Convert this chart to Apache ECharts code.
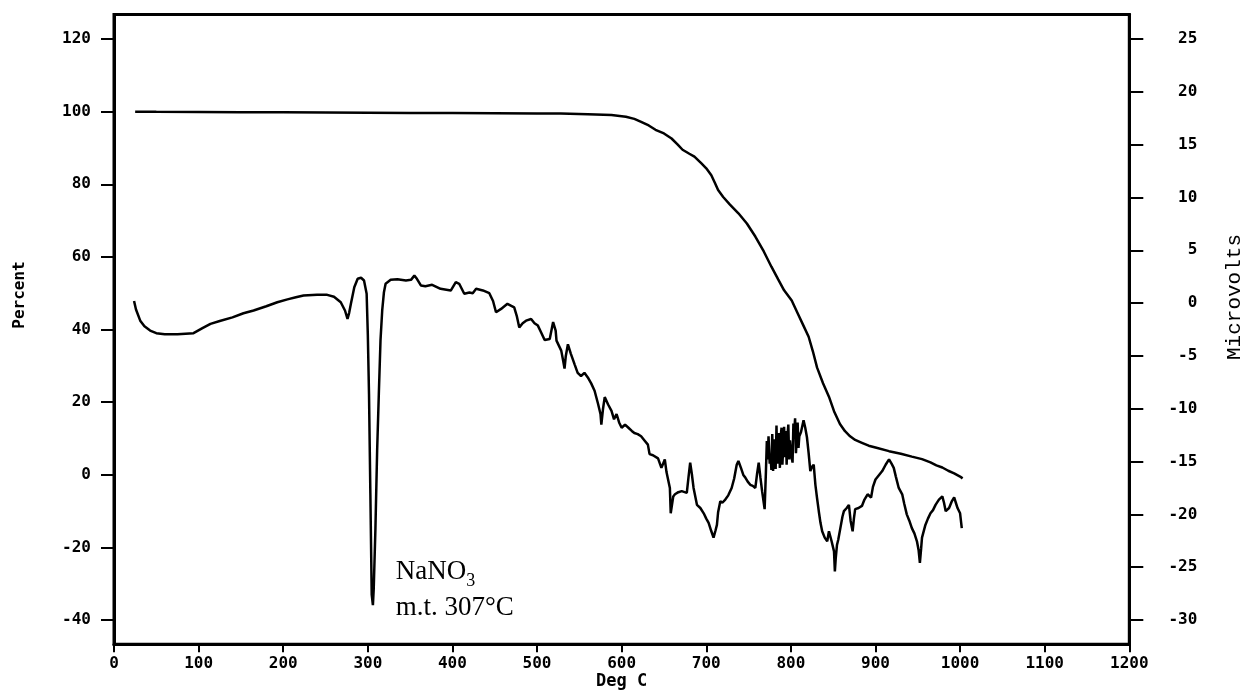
<!DOCTYPE html>
<html>
<head>
<meta charset="utf-8">
<script src="https://cdn.jsdelivr.net/npm/echarts@6/dist/echarts.min.js"></script>
<style>
  html, body { margin: 0; padding: 0; background: #fff; }
  #chart { width: 1245px; height: 690px; }
</style>
</head>
<body>
<div id="chart"></div>
<script>
// Thermogravimetric (weight %) trace: temperature in deg C, weight in percent
const tgaTemp = [25, 50, 100, 150, 200, 250, 300, 350, 400, 450, 500, 528, 560, 588, 605, 615, 623, 632, 640, 650,
  659, 666, 672, 680, 686, 694, 700, 706, 710, 714, 720, 728, 738, 748, 758, 768, 777, 785, 792, 801,
  808, 815, 821, 826, 831, 838, 845, 851, 858, 864, 870, 876, 884, 892, 900, 916, 930, 943, 955, 965,
  972, 979, 986, 993, 1000, 1003];
const tgaPercent = [100, 99.95, 99.9, 99.85, 99.8, 99.75, 99.7, 99.65, 99.6, 99.55, 99.5, 99.5, 99.3, 99.1, 98.6, 98, 97.2, 96.2, 95, 94,
  92.6, 91, 89.5, 88.4, 87.6, 85.8, 84.4, 82.5, 80.5, 78.4, 76.5, 74.4, 72, 69.2, 65.6, 61.5, 57.3, 53.8, 50.8, 48,
  44.5, 41, 38, 34, 29.5, 25.2, 21.5, 17.5, 14, 12, 10.6, 9.6, 8.8, 8.0, 7.5, 6.5, 5.8, 5.0, 4.3, 3.4,
  2.6, 2.0, 1.1, 0.4, -0.5, -1.0];

// Differential thermal trace: temperature in deg C, signal in microvolts
const dtaTemp = [23.7, 26, 31, 36, 42.7, 50, 60, 75, 94, 104, 114, 125, 140, 153, 165, 180, 193, 205, 215, 224,
  240, 252, 260, 268, 273, 276, 278, 280, 284, 288, 292, 295.5, 298.6, 300, 301.4, 303, 304.6, 306, 307, 309,
  311, 313, 315, 317, 319, 321, 327, 335, 345, 351, 355, 358, 362.7, 368, 376, 386, 398, 404, 408, 414,
  420, 424, 428, 436, 443.6, 448, 451.5, 457.5, 465, 473, 476, 479, 483, 487, 493, 497, 501, 505, 509, 515,
  519, 522, 523, 528.6, 531, 532.5, 534, 536.5, 540, 544.4, 548, 552, 556, 560, 564, 568, 572, 575, 576, 578,
  580, 584, 588, 591, 594, 597, 600, 604, 608, 612, 615, 619, 623, 627, 631, 633, 637, 643, 647, 651,
  653, 657, 658, 661, 663, 667, 671, 677, 679, 681, 683, 685, 689, 693, 697, 700, 702.8, 706, 708.6, 711,
  712.6, 714, 716.6, 719, 722.5, 726, 730, 733, 736, 738, 741, 744, 746, 749, 752, 755, 758, 760, 762, 764,
  766, 769, 770.5, 771.6, 772.6, 773.6, 775, 776, 777, 778, 779, 780, 781, 782, 783, 784, 785, 786, 787, 788,
  789, 790, 791, 792, 793, 794, 795, 796, 797, 798, 799, 800.5, 802, 803, 804, 805, 806, 807, 808, 809,
  810, 812, 815, 817, 819, 821, 823, 825, 827, 829, 831, 833, 835, 837, 840, 843, 845,
  848, 851, 852, 853, 854.5, 856, 858.5, 861, 862.7, 866, 868.6, 870.6, 873, 874.5, 876, 880, 884, 887, 890.7, 894.8,
  897, 900, 904, 908, 912, 916, 919, 921.6, 924, 927.5, 931.6, 934, 937, 940, 943, 946, 949, 951, 952.5, 954,
  955, 959, 962, 965, 968, 971, 975, 979, 981, 983, 987, 990, 993, 995, 997, 1000, 1002];
const dtaMicrovolts = [0.2, -0.6, -1.66, -2.2, -2.6, -2.85, -2.95, -2.95, -2.85, -2.4, -1.97, -1.7, -1.35, -0.96, -0.7, -0.3, 0.08, 0.35, 0.55, 0.72,
  0.8, 0.78, 0.6, 0.08, -0.7, -1.5, -0.9, -0.07, 1.5, 2.3, 2.4, 2.14, 0.88, -3, -8.6, -18, -27.6, -28.6, -27, -21.3,
  -14, -8.6, -3.5, -0.7, 1, 1.83, 2.2, 2.25, 2.15, 2.2, 2.6, 2.3, 1.67, 1.6, 1.73, 1.35, 1.19, 1.98, 1.83, 0.88,
  1.0, 0.94, 1.35, 1.2, 0.94, 0.2, -0.87, -0.55, -0.07, -0.4, -1.2, -2.3, -1.9, -1.66, -1.5, -1.9, -2.13, -2.8, -3.5, -3.4,
  -1.8, -2.6, -3.55, -4.5, -5.5, -6.2, -5, -3.9, -4.8, -5.8, -6.6, -6.9, -6.6, -7.04, -7.6, -8.3, -9.5, -10.5, -11.5, -10,
  -8.9, -9.6, -10.2, -11, -10.5, -11.3, -11.8, -11.5, -11.8, -12.1, -12.3, -12.4, -12.6, -13, -13.4, -14.3, -14.4, -14.7, -15.6, -14.8,
  -16, -17.5, -19.9, -18.3, -18.1, -17.9, -17.8, -17.96, -16.5, -15.1, -16.2, -17.5, -19.1, -19.4, -19.9, -20.4, -20.8, -21.6, -22.2, -21.5,
  -21, -19.8, -18.75, -18.9, -18.6, -18.2, -17.5, -16.6, -15.3, -14.95, -15.6, -16.3, -16.5, -16.9, -17.2, -17.3, -17.5, -16.2, -15.1, -16.5,
  -17.8, -19.5, -16, -13.05, -14.8, -12.6, -15.2, -14.5, -15.8, -12.4, -15.9, -12.9, -13.5, -15.7, -11.6, -15.2, -14.2, -12.3, -15.6, -12.6,
  -11.8, -15.3, -13.5, -11.7, -14.6, -12.1, -15.3, -12.6, -11.5, -14.8, -13, -14.4, -15.1, -11.4, -12.2, -10.9, -14.2, -12.8, -11.3, -13.7,
  -12.6, -12.2, -11.1, -11.8, -12.7, -14.2, -15.9, -15.5, -15.3, -17.2, -18.5, -19.7, -20.8, -21.6, -22.2, -22.55, -21.6,
  -22.5, -23.5, -25.4, -24.2, -22.9, -22.4, -21.3, -20.2, -19.7, -19.4, -19.1, -20.6, -21.6, -20.4, -19.5, -19.4, -19.2, -18.6, -18.1, -18.4,
  -17.4, -16.7, -16.3, -15.9, -15.3, -14.8, -15.2, -15.6, -16.4, -17.5, -18.1, -19, -20, -20.6, -21.3, -21.8, -22.55, -23.4, -24.6, -23.2,
  -22.2, -21, -20.4, -19.9, -19.6, -19.1, -18.6, -18.3, -18.9, -19.7, -19.4, -18.8, -18.4, -18.9, -19.4, -19.9, -21.3];

// Tick labels on the three axes
const tempTicks = [0, 100, 200, 300, 400, 500, 600, 700, 800, 900, 1000, 1100, 1200];
const percentTicks = [-40, -20, 0, 20, 40, 60, 80, 100, 120];
const microvoltTicks = [-30, -25, -20, -15, -10, -5, 0, 5, 10, 15, 20, 25];

// Annotation for the melting endotherm
const peakLabel = { compound: 'NaNO', sub: '3', note: 'm.t. 307°C', temp: 333, percent: -22.9 };

const tgaData = tgaTemp.map((t, i) => [t, tgaPercent[i]]);
const dtaData = dtaTemp.map((t, i) => [t, dtaMicrovolts[i]]);

const tickFont = { fontFamily: 'DejaVu Sans Mono', fontWeight: 'bold', fontSize: 16, color: '#000' };
const black = '#000';

const chart = echarts.init(document.getElementById('chart'), null, { renderer: 'canvas' });

chart.setOption({
  backgroundColor: '#fff',
  animation: false,
  grid: {
    left: 114, right: 115.7, top: 14.5, bottom: 45.7,
    outerBoundsMode: 'none', containLabel: false,
    show: true, borderColor: black, borderWidth: 3, backgroundColor: 'transparent'
  },
  xAxis: {
    type: 'value', min: 0, max: 1200, interval: 100,
    axisLine: { show: true, onZero: false, lineStyle: { color: black, width: 3 } },
    axisTick: { show: true, inside: false, length: 8, lineStyle: { color: black, width: 2 } },
    axisLabel: Object.assign({ margin: 12, formatter: v => tempTicks.includes(v) ? String(v) : '' }, tickFont),
    splitLine: { show: false }
  },
  yAxis: [
    {
      type: 'value', position: 'left', min: -46.69, max: 126.75,
      axisLine: { show: true, onZero: false, lineStyle: { color: black, width: 3 } },
      axisTick: { show: true, length: 13, customValues: percentTicks, lineStyle: { color: black, width: 2 } },
      axisLabel: Object.assign({ margin: 23, customValues: percentTicks }, tickFont),
      splitLine: { show: false }
    },
    {
      type: 'value', position: 'right', min: -32.30, max: 27.32,
      axisLine: { show: true, onZero: false, lineStyle: { color: black, width: 3 } },
      axisTick: { show: true, length: 14, customValues: microvoltTicks, lineStyle: { color: black, width: 2 } },
      axisLabel: Object.assign({ margin: 68, align: 'right', customValues: microvoltTicks }, tickFont),
      splitLine: { show: false }
    }
  ],
  series: [
    {
      name: 'Percent', type: 'line', yAxisIndex: 0, data: tgaData,
      showSymbol: false, smooth: false,
      lineStyle: { color: black, width: 2.5 }
    },
    {
      name: 'Microvolts', type: 'line', yAxisIndex: 1, data: dtaData,
      showSymbol: false, smooth: false,
      lineStyle: { color: black, width: 2.5 }
    }
  ]
});

// Axis titles and the peak annotation, placed from the axis scales
const anchor = chart.convertToPixel({ xAxisIndex: 0, yAxisIndex: 0 }, [peakLabel.temp, peakLabel.percent]);
const xMid = chart.convertToPixel({ xAxisIndex: 0 }, 600);
chart.setOption({
  graphic: [
    {
      type: 'text', x: xMid, y: 682,
      style: { text: 'Deg C', font: 'bold 17px "DejaVu Sans Mono"', fill: black, align: 'center', verticalAlign: 'middle' }
    },
    {
      type: 'text', x: 20, y: 295, rotation: Math.PI / 2,
      style: { text: 'Percent', font: 'bold 16px "DejaVu Sans Mono"', fill: black, align: 'center', verticalAlign: 'middle' }
    },
    {
      type: 'text', x: 1234, y: 297, rotation: Math.PI / 2,
      style: { text: 'Microvolts', font: '21px "Liberation Mono"', fill: black, align: 'center', verticalAlign: 'middle' }
    },
    {
      type: 'text', x: anchor[0], y: anchor[1] - 4,
      style: {
        text: '{a|' + peakLabel.compound + '}{s|' + peakLabel.sub + '}\n{a|' + peakLabel.note + '}',
        align: 'left', verticalAlign: 'top',
        rich: {
          a: { fontFamily: 'Liberation Serif', fontSize: 27, lineHeight: 36, color: black, verticalAlign: 'middle' },
          s: { fontFamily: 'Liberation Serif', fontSize: 18, lineHeight: 36, color: black, verticalAlign: 'bottom' }
        }
      }
    }
  ]
});
</script>
</body>
</html>
